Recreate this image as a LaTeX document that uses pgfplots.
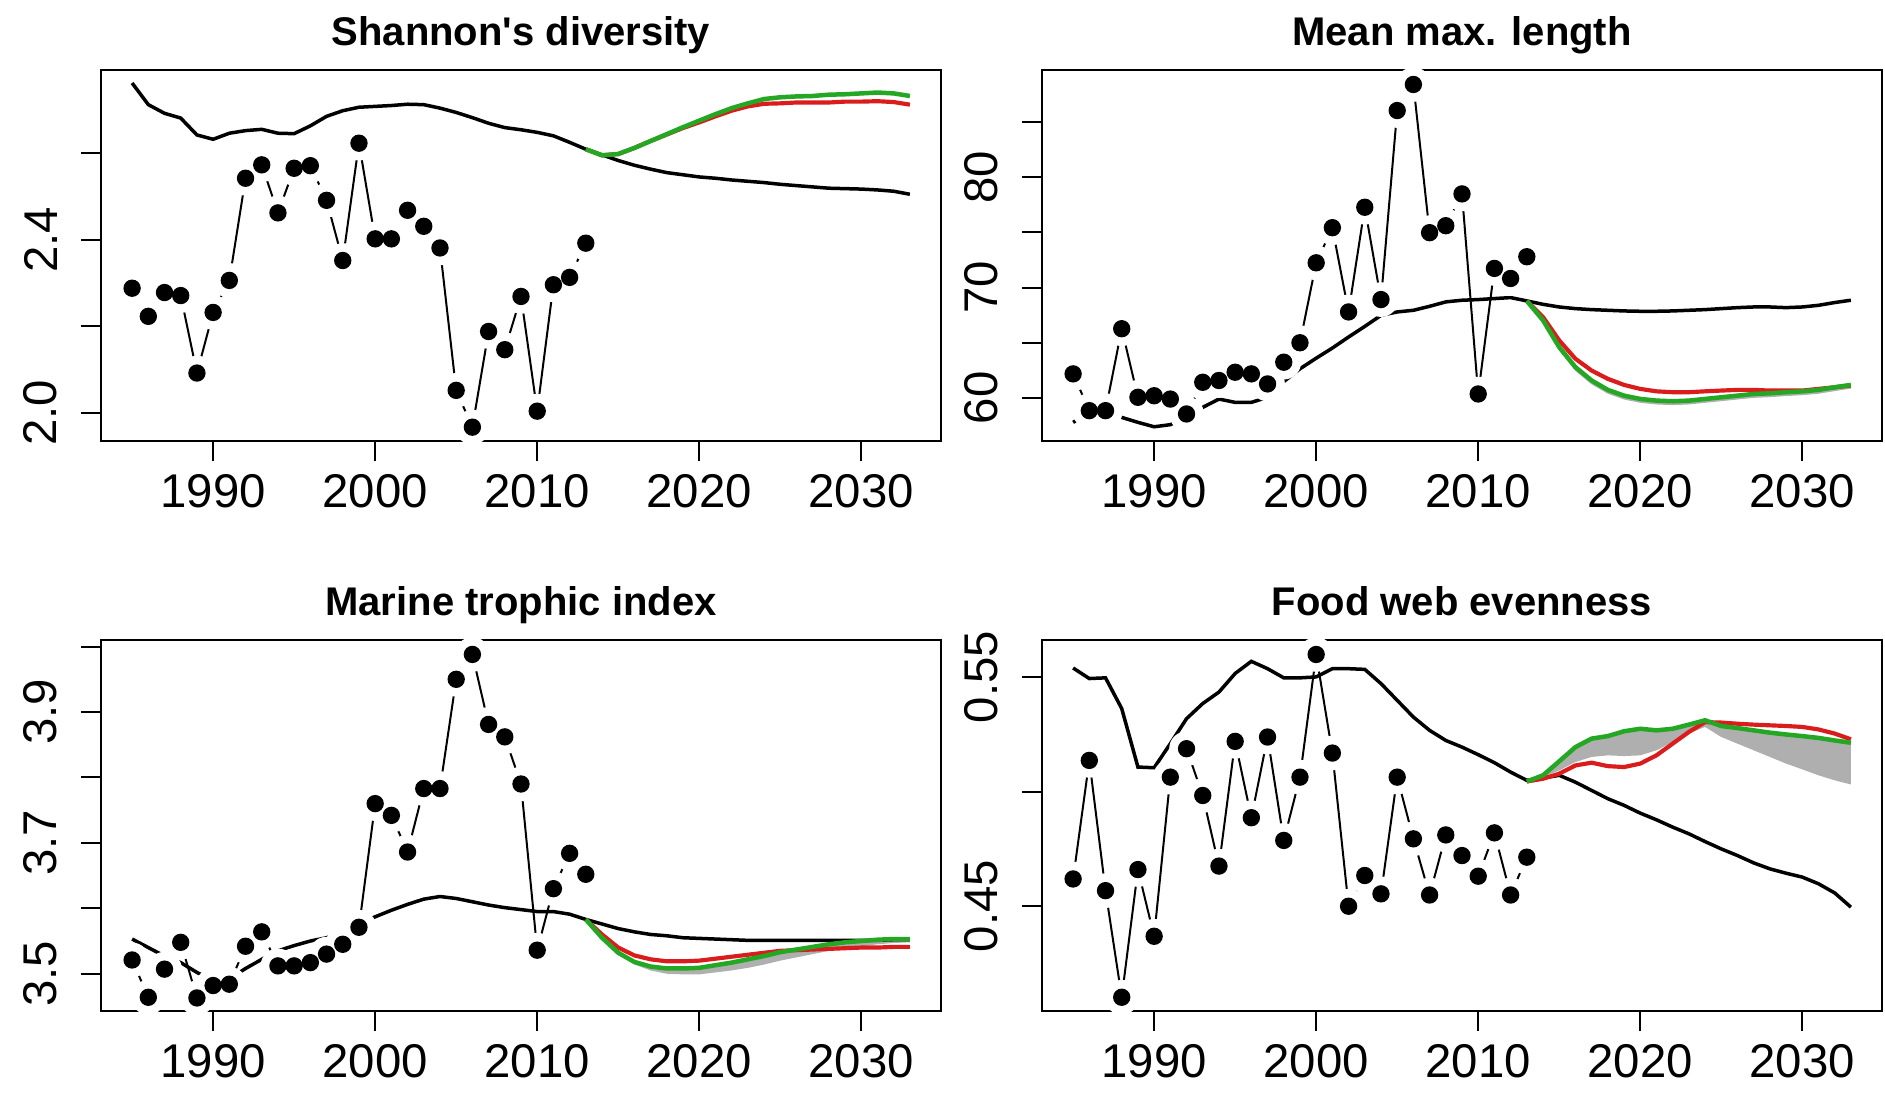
\documentclass[border=0pt]{standalone}
\usepackage{fontspec}
\setmainfont{Liberation Sans}
\usepackage{pgfplots}
\pgfplotsset{compat=1.18}
\definecolor{rred}{RGB}{218,28,28}
\definecolor{rgreen}{RGB}{36,168,36}
\definecolor{band}{RGB}{175,175,175}
\pgfplotsset{
  panel/.style={
    width=252pt, height=111.3pt, scale only axis,
    xmin=1983.08, xmax=2034.92,
    xtick={1990,2000,2010,2020,2030},
    xticklabels={1990,2000,2010,2020,2030},
    tick align=outside, tick pos=left, major tick length=6pt,
    axis line style={line width=0.6pt},
    every tick/.style={black, line width=0.6pt},
    ticklabel style={font=\fontsize{14.2}{14.2}\selectfont},
    yticklabel style={rotate=90, anchor=south},
    xticklabel shift=0.4pt, yticklabel shift=3.6pt,
    every axis title shift=0pt,
    title style={font=\bfseries\fontsize{12}{12}\selectfont, anchor=base, at={(0.5,1)}, yshift=7.3pt},
    axis on top, clip=true,
  },
  obsline/.style={black, line width=0.6pt, mark=none},
  halo/.style={only marks, mark=*, mark size=5pt, mark options={draw=white, fill=white}},
  dots/.style={only marks, mark=*, mark size=2.4pt, mark options={draw=black, fill=black}},
  model/.style={black, line width=1.05pt, mark=none},
  redl/.style={rred, line width=1.25pt, mark=none},
  greenl/.style={rgreen, line width=1.35pt, mark=none},
  bandf/.style={fill=band, draw=none},
}
\begin{document}
\begin{tikzpicture}
\useasboundingbox (0,0) rectangle (565.5pt,-327.6pt);
% ---------------- Panel 1 ----------------
\begin{axis}[panel, at={(30.3pt,-132.3pt)}, anchor=south west,
  ymin=1.935, ymax=2.792, ytick={2.0,2.2,2.4,2.6}, yticklabels={2.0,,2.4,},
  title={Shannon\textquotesingle s diversity}]
\addplot[obsline] table {
1985 2.288
1986 2.223
1987 2.278
1988 2.271
1989 2.092
1990 2.232
1991 2.306
1992 2.542
1993 2.573
1994 2.462
1995 2.565
1996 2.571
1997 2.491
1998 2.352
1999 2.623
2000 2.402
2001 2.402
2002 2.468
2003 2.431
2004 2.381
2005 2.052
2006 1.967
2007 2.188
2008 2.146
2009 2.269
2010 2.004
2011 2.296
2012 2.313
2013 2.392
};
\addplot[halo] table {
1985 2.288
1986 2.223
1987 2.278
1988 2.271
1989 2.092
1990 2.232
1991 2.306
1992 2.542
1993 2.573
1994 2.462
1995 2.565
1996 2.571
1997 2.491
1998 2.352
1999 2.623
2000 2.402
2001 2.402
2002 2.468
2003 2.431
2004 2.381
2005 2.052
2006 1.967
2007 2.188
2008 2.146
2009 2.269
2010 2.004
2011 2.296
2012 2.313
2013 2.392
};
\addplot[dots] table {
1985 2.288
1986 2.223
1987 2.278
1988 2.271
1989 2.092
1990 2.232
1991 2.306
1992 2.542
1993 2.573
1994 2.462
1995 2.565
1996 2.571
1997 2.491
1998 2.352
1999 2.623
2000 2.402
2001 2.402
2002 2.468
2003 2.431
2004 2.381
2005 2.052
2006 1.967
2007 2.188
2008 2.146
2009 2.269
2010 2.004
2011 2.296
2012 2.313
2013 2.392
};
\addplot[model] table {
1985 2.762
1986 2.712
1987 2.692
1988 2.681
1989 2.642
1990 2.632
1991 2.646
1992 2.652
1993 2.655
1994 2.646
1995 2.645
1996 2.663
1997 2.685
1998 2.698
1999 2.706
2000 2.708
2001 2.710
2002 2.713
2003 2.712
2004 2.704
2005 2.694
2006 2.682
2007 2.669
2008 2.659
2009 2.654
2010 2.648
2011 2.640
2012 2.625
2013 2.609
2014 2.596
2015 2.583
2016 2.572
2017 2.563
2018 2.555
2019 2.550
2020 2.545
2021 2.542
2022 2.538
2023 2.535
2024 2.532
2025 2.528
2026 2.525
2027 2.522
2028 2.519
2029 2.518
2030 2.517
2031 2.515
2032 2.512
2033 2.505
};
\addplot[redl] table {
2013 2.609
2014 2.595
2015 2.598
2016 2.612
2017 2.628
2018 2.643
2019 2.658
2020 2.671
2021 2.685
2022 2.698
2023 2.708
2024 2.714
2025 2.715
2026 2.717
2027 2.717
2028 2.717
2029 2.719
2030 2.719
2031 2.720
2032 2.718
2033 2.712
};
\addplot[greenl] table {
2013 2.609
2014 2.595
2015 2.598
2016 2.612
2017 2.628
2018 2.644
2019 2.660
2020 2.675
2021 2.690
2022 2.704
2023 2.715
2024 2.725
2025 2.729
2026 2.731
2027 2.732
2028 2.735
2029 2.736
2030 2.738
2031 2.740
2032 2.738
2033 2.732
};
\end{axis}
% ---------------- Panel 2 ----------------
\begin{axis}[panel, at={(312.6pt,-132.3pt)}, anchor=south west,
  ymin=56.1, ymax=89.7, ytick={60,65,70,75,80,85}, yticklabels={60,,70,,80,},
  title={Mean max. length}]
\addplot[obsline] table {
1985 62.18
1986 58.85
1987 58.85
1988 66.27
1989 60.06
1990 60.20
1991 59.90
1992 58.55
1993 61.42
1994 61.58
1995 62.33
1996 62.18
1997 61.27
1998 63.24
1999 65.00
2000 72.24
2001 75.42
2002 67.79
2003 77.27
2004 68.91
2005 86.03
2006 88.39
2007 74.97
2008 75.60
2009 78.48
2010 60.36
2011 71.73
2012 70.82
2013 72.79
};
\addplot[halo] table {
1985 62.18
1986 58.85
1987 58.85
1988 66.27
1989 60.06
1990 60.20
1991 59.90
1992 58.55
1993 61.42
1994 61.58
1995 62.33
1996 62.18
1997 61.27
1998 63.24
1999 65.00
2000 72.24
2001 75.42
2002 67.79
2003 77.27
2004 68.91
2005 86.03
2006 88.39
2007 74.97
2008 75.60
2009 78.48
2010 60.36
2011 71.73
2012 70.82
2013 72.79
};
\addplot[dots] table {
1985 62.18
1986 58.85
1987 58.85
1988 66.27
1989 60.06
1990 60.20
1991 59.90
1992 58.55
1993 61.42
1994 61.58
1995 62.33
1996 62.18
1997 61.27
1998 63.24
1999 65.00
2000 72.24
2001 75.42
2002 67.79
2003 77.27
2004 68.91
2005 86.03
2006 88.39
2007 74.97
2008 75.60
2009 78.48
2010 60.36
2011 71.73
2012 70.82
2013 72.79
};
\addplot[bandf] table {
2014 67.03
2015 64.60
2016 62.79
2017 61.58
2018 60.73
2019 60.21
2020 59.91
2021 59.76
2022 59.70
2023 59.76
2024 59.91
2025 60.06
2026 60.21
2027 60.36
2028 60.42
2029 60.52
2030 60.60
2031 60.73
2032 60.97
2033 61.18
2033 60.85
2032 60.62
2031 60.38
2030 60.25
2029 60.17
2028 60.07
2027 60.01
2026 59.86
2025 59.71
2024 59.56
2023 59.41
2022 59.35
2021 59.41
2020 59.56
2019 59.86
2018 60.38
2017 61.23
2016 62.44
2015 64.30
2014 66.83
} -- cycle;
\addplot[model] table {
1985 57.79
1986 58.70
1987 58.55
1988 58.24
1989 57.79
1990 57.39
1991 57.58
1992 58.30
1993 59.15
1994 59.90
1995 59.60
1996 59.60
1997 60.06
1998 61.48
1999 62.64
2000 63.60
2001 64.52
2002 65.52
2003 66.48
2004 67.48
2005 67.79
2006 67.94
2007 68.30
2008 68.70
2009 68.85
2010 68.91
2011 69.00
2012 69.09
2013 68.79
2014 68.48
2015 68.24
2016 68.09
2017 68.00
2018 67.94
2019 67.88
2020 67.85
2021 67.85
2022 67.88
2023 67.94
2024 68.00
2025 68.09
2026 68.18
2027 68.24
2028 68.24
2029 68.18
2030 68.24
2031 68.39
2032 68.64
2033 68.85
};
\addplot[redl] table {
2013 68.79
2014 67.33
2015 65.21
2016 63.55
2017 62.48
2018 61.73
2019 61.18
2020 60.82
2021 60.60
2022 60.52
2023 60.52
2024 60.60
2025 60.67
2026 60.73
2027 60.73
2028 60.67
2029 60.67
2030 60.67
2031 60.82
2032 60.97
2033 61.12
};
\addplot[greenl] table {
2013 68.79
2014 67.03
2015 64.60
2016 62.79
2017 61.58
2018 60.73
2019 60.21
2020 59.91
2021 59.76
2022 59.70
2023 59.76
2024 59.91
2025 60.06
2026 60.21
2027 60.36
2028 60.42
2029 60.52
2030 60.60
2031 60.73
2032 60.97
2033 61.18
};
\end{axis}
% ---------------- Panel 3 ----------------
\begin{axis}[panel, at={(30.3pt,-303.3pt)}, anchor=south west,
  ymin=3.443, ymax=4.010, ytick={3.5,3.6,3.7,3.8,3.9,4.0}, yticklabels={3.5,,3.7,,3.9,},
  title={Marine trophic index}]
\addplot[obsline] table {
1985 3.521
1986 3.464
1987 3.507
1988 3.548
1989 3.463
1990 3.482
1991 3.484
1992 3.542
1993 3.564
1994 3.512
1995 3.512
1996 3.517
1997 3.530
1998 3.545
1999 3.571
2000 3.760
2001 3.742
2002 3.686
2003 3.783
2004 3.783
2005 3.950
2006 3.988
2007 3.881
2008 3.862
2009 3.790
2010 3.536
2011 3.630
2012 3.684
2013 3.652
};
\addplot[halo] table {
1985 3.521
1986 3.464
1987 3.507
1988 3.548
1989 3.463
1990 3.482
1991 3.484
1992 3.542
1993 3.564
1994 3.512
1995 3.512
1996 3.517
1997 3.530
1998 3.545
1999 3.571
2000 3.760
2001 3.742
2002 3.686
2003 3.783
2004 3.783
2005 3.950
2006 3.988
2007 3.881
2008 3.862
2009 3.790
2010 3.536
2011 3.630
2012 3.684
2013 3.652
};
\addplot[dots] table {
1985 3.521
1986 3.464
1987 3.507
1988 3.548
1989 3.463
1990 3.482
1991 3.484
1992 3.542
1993 3.564
1994 3.512
1995 3.512
1996 3.517
1997 3.530
1998 3.545
1999 3.571
2000 3.760
2001 3.742
2002 3.686
2003 3.783
2004 3.783
2005 3.950
2006 3.988
2007 3.881
2008 3.862
2009 3.790
2010 3.536
2011 3.630
2012 3.684
2013 3.652
};
\addplot[bandf] table {
2015 3.532
2016 3.518
2017 3.511
2018 3.508
2019 3.508
2020 3.509
2021 3.513
2022 3.517
2023 3.522
2024 3.527
2025 3.533
2026 3.537
2027 3.541
2028 3.545
2029 3.548
2030 3.550
2031 3.552
2032 3.553
2033 3.553
2033 3.548
2032 3.547
2031 3.545
2030 3.542
2029 3.539
2028 3.535
2027 3.530
2026 3.525
2025 3.520
2024 3.514
2023 3.509
2022 3.505
2021 3.502
2020 3.499
2019 3.499
2018 3.500
2017 3.505
2016 3.514
2015 3.530
} -- cycle;
\addplot[model] table {
1985 3.553
1986 3.540
1987 3.527
1988 3.517
1989 3.502
1990 3.489
1991 3.492
1992 3.508
1993 3.522
1994 3.535
1995 3.543
1996 3.550
1997 3.555
1998 3.563
1999 3.576
2000 3.587
2001 3.597
2002 3.606
2003 3.614
2004 3.618
2005 3.615
2006 3.610
2007 3.605
2008 3.601
2009 3.598
2010 3.595
2011 3.595
2012 3.591
2013 3.583
2014 3.576
2015 3.569
2016 3.564
2017 3.560
2018 3.558
2019 3.555
2020 3.554
2021 3.553
2022 3.552
2023 3.551
2024 3.551
2025 3.551
2026 3.551
2027 3.551
2028 3.551
2029 3.551
2030 3.551
2031 3.551
2032 3.552
2033 3.552
};
\addplot[redl] table {
2013 3.583
2014 3.560
2015 3.540
2016 3.528
2017 3.522
2018 3.519
2019 3.519
2020 3.520
2021 3.523
2022 3.526
2023 3.529
2024 3.532
2025 3.535
2026 3.536
2027 3.537
2028 3.538
2029 3.539
2030 3.540
2031 3.540
2032 3.541
2033 3.541
};
\addplot[greenl] table {
2013 3.583
2014 3.555
2015 3.532
2016 3.518
2017 3.511
2018 3.508
2019 3.508
2020 3.509
2021 3.513
2022 3.517
2023 3.522
2024 3.527
2025 3.533
2026 3.537
2027 3.541
2028 3.545
2029 3.548
2030 3.550
2031 3.552
2032 3.553
2033 3.553
};
\end{axis}
% ---------------- Panel 4 ----------------
\begin{axis}[panel, at={(312.6pt,-303.3pt)}, anchor=south west,
  ymin=0.4043, ymax=0.5661, ytick={0.45,0.50,0.55}, yticklabels={0.45,,0.55},
  title={Food web evenness}]
\addplot[obsline] table {
1985 0.4619
1986 0.5136
1987 0.4568
1988 0.4103
1989 0.4660
1990 0.4369
1991 0.5063
1992 0.5187
1993 0.4983
1994 0.4675
1995 0.5219
1996 0.4886
1997 0.5238
1998 0.4787
1999 0.5063
2000 0.5598
2001 0.5168
2002 0.4500
2003 0.4634
2004 0.4554
2005 0.5063
2006 0.4794
2007 0.4549
2008 0.4811
2009 0.4721
2010 0.4631
2011 0.4820
2012 0.4549
2013 0.4714
};
\addplot[halo] table {
1985 0.4619
1986 0.5136
1987 0.4568
1988 0.4103
1989 0.4660
1990 0.4369
1991 0.5063
1992 0.5187
1993 0.4983
1994 0.4675
1995 0.5219
1996 0.4886
1997 0.5238
1998 0.4787
1999 0.5063
2000 0.5598
2001 0.5168
2002 0.4500
2003 0.4634
2004 0.4554
2005 0.5063
2006 0.4794
2007 0.4549
2008 0.4811
2009 0.4721
2010 0.4631
2011 0.4820
2012 0.4549
2013 0.4714
};
\addplot[dots] table {
1985 0.4619
1986 0.5136
1987 0.4568
1988 0.4103
1989 0.4660
1990 0.4369
1991 0.5063
1992 0.5187
1993 0.4983
1994 0.4675
1995 0.5219
1996 0.4886
1997 0.5238
1998 0.4787
1999 0.5063
2000 0.5598
2001 0.5168
2002 0.4500
2003 0.4634
2004 0.4554
2005 0.5063
2006 0.4794
2007 0.4549
2008 0.4811
2009 0.4721
2010 0.4631
2011 0.4820
2012 0.4549
2013 0.4714
};
\addplot[bandf] table {
2013 0.5044
2014 0.5071
2015 0.5132
2016 0.5194
2017 0.5231
2018 0.5242
2019 0.5263
2020 0.5274
2021 0.5267
2022 0.5274
2023 0.5292
2024 0.5311
2025 0.5286
2026 0.5277
2027 0.5267
2028 0.5257
2029 0.5249
2030 0.5242
2031 0.5234
2032 0.5223
2033 0.5213
2033 0.5031
2032 0.5049
2031 0.5071
2030 0.5097
2029 0.5122
2028 0.5151
2027 0.5180
2026 0.5209
2025 0.5238
2024 0.5282
2023 0.5253
2022 0.5216
2021 0.5180
2020 0.5158
2019 0.5155
2018 0.5158
2017 0.5151
2016 0.5129
2015 0.5092
2014 0.5063
} -- cycle;
\addplot[model] table {
1985 0.5539
1986 0.5493
1987 0.5496
1988 0.5362
1989 0.5107
1990 0.5104
1991 0.5209
1992 0.5318
1993 0.5384
1994 0.5434
1995 0.5515
1996 0.5568
1997 0.5536
1998 0.5496
1999 0.5496
2000 0.5500
2001 0.5536
2002 0.5536
2003 0.5533
2004 0.5471
2005 0.5398
2006 0.5325
2007 0.5267
2008 0.5223
2009 0.5194
2010 0.5161
2011 0.5126
2012 0.5085
2013 0.5049
2014 0.5059
2015 0.5071
2016 0.5041
2017 0.5005
2018 0.4969
2019 0.4940
2020 0.4906
2021 0.4877
2022 0.4845
2023 0.4816
2024 0.4782
2025 0.4750
2026 0.4721
2027 0.4689
2028 0.4663
2029 0.4644
2030 0.4627
2031 0.4598
2032 0.4558
2033 0.4496
};
\addplot[redl] table {
2013 0.5044
2014 0.5056
2015 0.5078
2016 0.5114
2017 0.5126
2018 0.5111
2019 0.5107
2020 0.5122
2021 0.5158
2022 0.5209
2023 0.5260
2024 0.5303
2025 0.5301
2026 0.5296
2027 0.5292
2028 0.5289
2029 0.5286
2030 0.5282
2031 0.5271
2032 0.5253
2033 0.5228
};
\addplot[greenl] table {
2013 0.5044
2014 0.5071
2015 0.5132
2016 0.5194
2017 0.5231
2018 0.5242
2019 0.5263
2020 0.5274
2021 0.5267
2022 0.5274
2023 0.5292
2024 0.5311
2025 0.5286
2026 0.5277
2027 0.5267
2028 0.5257
2029 0.5249
2030 0.5242
2031 0.5234
2032 0.5223
2033 0.5213
};
\end{axis}
\end{tikzpicture}
\end{document}
